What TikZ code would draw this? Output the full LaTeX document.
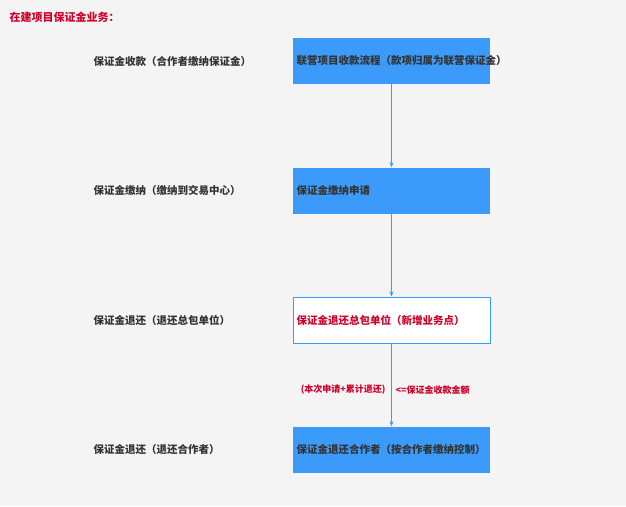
\documentclass[tikz,border=0pt]{standalone}
\usepackage{fontspec}
\setmainfont{Noto Sans CJK SC}
\usetikzlibrary{arrows.meta}
\definecolor{bg}{HTML}{F4F4F4}
\definecolor{boxblue}{HTML}{3C9BFA}
\definecolor{redt}{HTML}{D0002A}
\definecolor{gt}{HTML}{333333}
\tikzset{
 bluebox/.style={fill=boxblue,minimum width=197pt,minimum height=46pt,text width=190pt,align=left,inner sep=3pt,font=\fontsize{10.5pt}{13pt}\selectfont\bfseries,text=gt},
 whitebox/.style={bluebox,fill=white,draw=boxblue,line width=1pt,text=redt},
 lbl/.style={anchor=west,font=\fontsize{10.5pt}{13pt}\selectfont\bfseries,text=gt},
 arr/.style={-{Stealth[length=5pt,width=4pt]},draw=boxblue,line width=0.8pt},
 rl/.style={font=\fontsize{9pt}{11pt}\selectfont\bfseries,text=redt}
}
\begin{document}
\begin{tikzpicture}[x=1pt,y=-1pt]
\fill[bg] (0,0) rectangle (626,506);
\useasboundingbox (0,0) rectangle (626,506);
\node[anchor=west,font=\fontsize{11pt}{13pt}\selectfont\bfseries,text=redt] (t) at (6,17) {在建项目保证金业务：};
\node[bluebox] (b1) at (391.5,61) {联营项目收款流程（款项归属为联营保证金）};
\node[bluebox] (b2) at (391.5,190.5) {保证金缴纳申请};
\node[whitebox] (b3) at (391.5,320) {保证金退还总包单位（新增业务点）};
\node[bluebox] (b4) at (391.5,449.5) {保证金退还合作者（按合作者缴纳控制）};
\node[lbl] (l1) at (90,61) {保证金收款（合作者缴纳保证金）};
\node[lbl] (l2) at (90,190.5) {保证金缴纳（缴纳到交易中心）};
\node[lbl] (l3) at (90,320) {保证金退还（退还总包单位）};
\node[lbl] (l4) at (90,449.5) {保证金退还（退还合作者）};
\draw[arr] (b1) -- (b2);
\draw[arr] (b2) -- (b3);
\draw[arr] (b3) -- (b4);
\node[rl,anchor=east] (r1) at (389,390) {(本次申请+累计退还)};
\node[rl,anchor=west] (r2) at (392,390) {<=保证金收款金额};
\end{tikzpicture}
\end{document}
